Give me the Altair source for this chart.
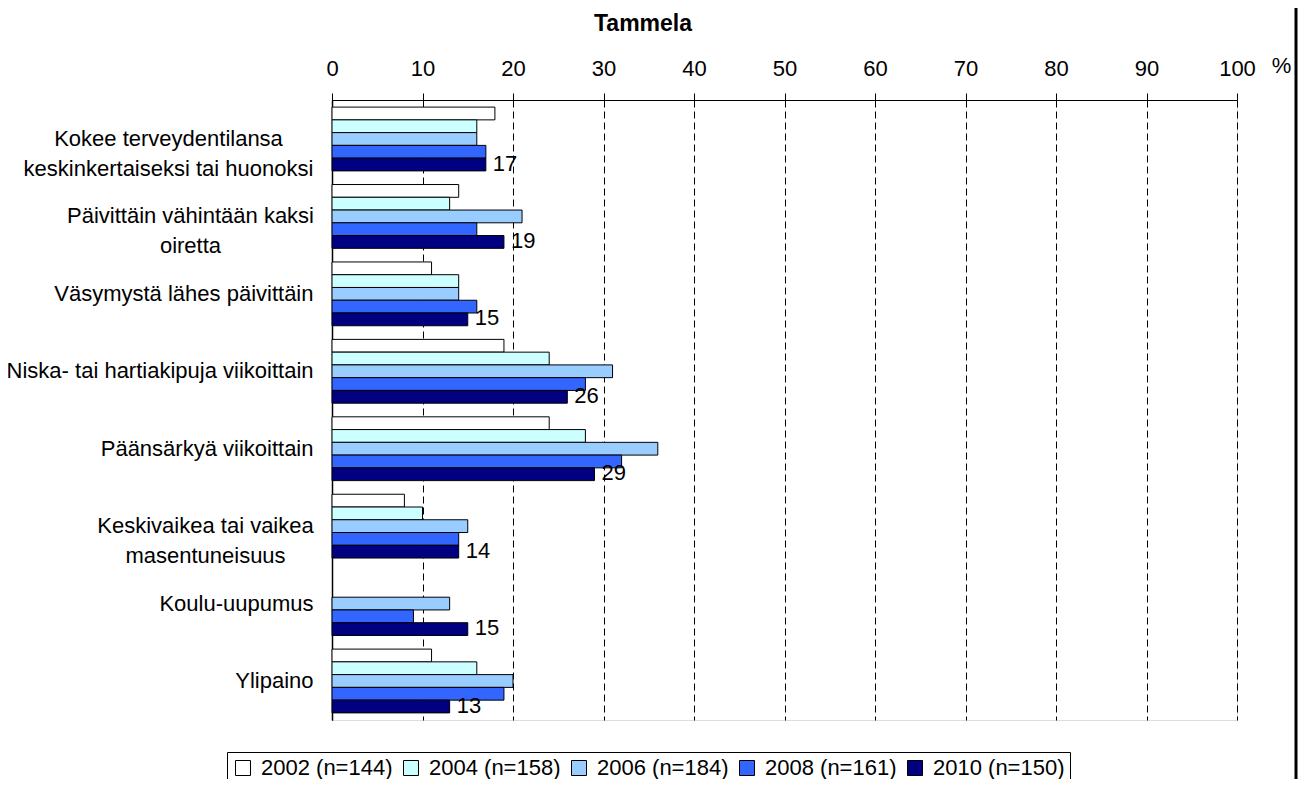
import altair as alt
import pandas as pd

FONT = "Liberation Sans"

chart_title = "Tammela"
categories = [
    "Kokee terveydentilansa|keskinkertaiseksi tai huonoksi",
    "Päivittäin vähintään kaksi|oiretta",
    "Väsymystä lähes päivittäin",
    "Niska- tai hartiakipuja viikoittain",
    "Päänsärkyä viikoittain",
    "Keskivaikea tai vaikea|masentuneisuus",
    "Koulu-uupumus",
    "Ylipaino",
]
years = ["2002 (n=144)", "2004 (n=158)", "2006 (n=184)", "2008 (n=161)", "2010 (n=150)"]
colors = ["#FFFFFF", "#CCFFFF", "#99CCFF", "#3366FF", "#000080"]

v2002 = [18, 14, 11, 19, 24, 8, None, 11]
v2004 = [16, 13, 14, 24, 28, 10, None, 16]
v2006 = [16, 21, 14, 31, 36, 15, 13, 20]
v2008 = [17, 16, 16, 28, 32, 14, 9, 19]
v2010 = [17, 19, 15, 26, 29, 14, 15, 13]
series = [v2002, v2004, v2006, v2008, v2010]
x_ticks = list(range(0, 101, 10))

rows = []
for yr, vals in zip(years, series):
    for c, v in zip(categories, vals):
        if v is not None:
            rows.append({"category": c, "year": yr, "value": v})
df = pd.DataFrame(rows)
labels_df = df[df["year"] == years[-1]]

label_align = {
    "condition": {"test": "indexof(datum.value, '|') >= 0", "value": "center"},
    "value": "right",
}
label_padding = {
    "condition": [
        {"test": "datum.value == '%s'" % categories[0], "value": 164},
        {"test": "datum.value == '%s'" % categories[1], "value": 142},
        {"test": "datum.value == '%s'" % categories[5], "value": 127},
    ],
    "value": 19,
}

x_enc = alt.X(
    "value:Q",
    scale=alt.Scale(domain=[0, 100], nice=False),
    axis=alt.Axis(
        orient="top", values=x_ticks, grid=True, gridColor="black", gridDash=[7, 4],
        gridWidth=1, tickColor="black", tickSize=7, domainColor="black",
        labelFontSize=22, labelFont=FONT, labelColor="black", labelPadding=13,
        labelFlush=False, title="%", titleX=949, titleY=-28, titleBaseline="alphabetic",
        titleAlign="center", titleFontWeight="normal", titleFontSize=22, titleFont=FONT,
        titleColor="black",
    ),
)
y_enc = alt.Y(
    "category:N", sort=categories,
    scale=alt.Scale(domain=categories, paddingInner=0.176, paddingOuter=0.0917),
    axis=alt.Axis(
        title=None, ticks=False, grid=False, domainColor="black", domainWidth=1.5,
        labelFontSize=22, labelFont=FONT, labelColor="black", labelLineHeight=30,
        labelExpr="split(datum.label, '|')", labelAlign=label_align,
        labelPadding=label_padding, labelLimit=0, labelBaseline="middle",
    ),
)
yoff_enc = alt.YOffset("year:N", sort=years,
                       scale=alt.Scale(domain=years, paddingInner=0, paddingOuter=0))

bars = alt.Chart(df).mark_bar(stroke="black", strokeWidth=1).encode(
    x=x_enc,
    y=y_enc,
    yOffset=yoff_enc,
    color=alt.Color(
        "year:N", sort=years, scale=alt.Scale(domain=years, range=colors),
        legend=alt.Legend(
            title=None, orient="none", legendX=-105, legendY=652, direction="horizontal",
            columns=5, strokeColor="black", fillColor="white", padding=5,
            symbolType="square", symbolSize=225, symbolStrokeColor="black",
            symbolStrokeWidth=1, labelFontSize=22, labelFont=FONT, labelColor="black",
            labelOffset=7, columnPadding=7, labelLimit=300, cornerRadius=0,
        ),
    ),
)

text = alt.Chart(labels_df).mark_text(
    align="left", baseline="middle", dx=7, dy=-1, fontSize=22, font=FONT, color="black"
).encode(
    x="value:Q",
    y=alt.Y("category:N", sort=categories),
    yOffset=alt.YOffset("year:N", sort=years),
    text="value:Q",
)

title_mark = alt.Chart(pd.DataFrame({"t": [chart_title]})).mark_text(
    align="center", baseline="alphabetic", fontSize=23, fontWeight="bold",
    font=FONT, color="black", clip=False,
).encode(x=alt.value(311), y=alt.value(-69), text="t:N")

edge = alt.Chart(pd.DataFrame({"a": [0]})).mark_rule(
    color="black", strokeWidth=3, clip=False
).encode(x=alt.value(964), y=alt.value(-92), y2=alt.value(679))

chart = alt.layer(bars, text, title_mark, edge).properties(
    width=905, height=620,
    autosize=alt.AutoSizeParams(type="none"),
    padding={"left": 324, "top": 92, "right": 61, "bottom": 59},
).configure_view(stroke="black", strokeWidth=1).configure(background="white")

chart.save("out.html", embed_options={"renderer": "svg", "actions": False})
